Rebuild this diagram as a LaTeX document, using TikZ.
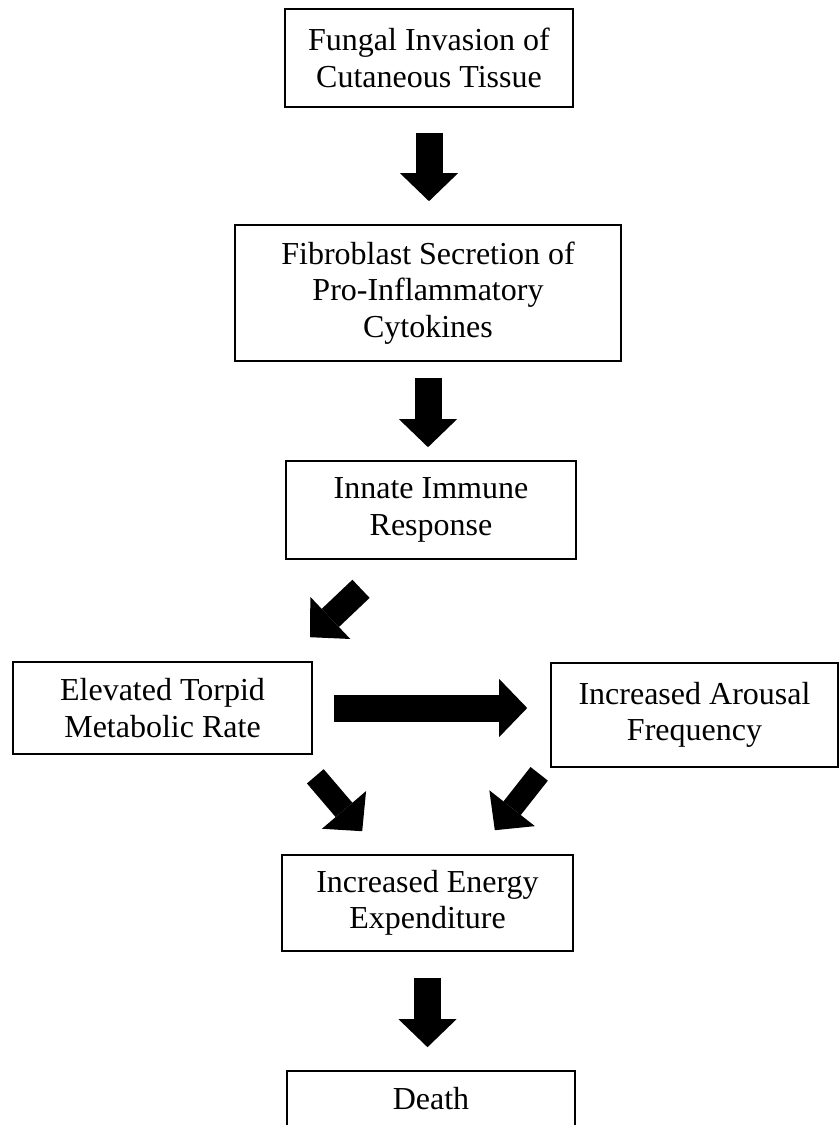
\documentclass[tikz,border=0pt]{standalone}
\usepackage{fontspec}
\setmainfont{Liberation Serif}
\usetikzlibrary{arrows.meta}

\begin{document}
\begin{tikzpicture}[
  x=1bp, y=-1bp,
  stage/.style={draw, line width=1.6bp, inner sep=0pt, align=center, font=\fontsize{32bp}{36.5bp}\selectfont},
  fatarrow/.style={line width=27bp, -{Triangle[length=28bp, width=58bp, line width=0pt]}},
]
\useasboundingbox (0,0) rectangle (840,1125);
\node[stage, minimum width=288bp, minimum height=98bp] (inv) at (429,58) {Fungal Invasion of\\Cutaneous Tissue};
\node[stage, minimum width=386bp, minimum height=136bp] (sec) at (428,293) {Fibroblast Secretion of\\Pro-Inflammatory\\Cytokines};
\node[stage, minimum width=290bp, minimum height=98bp] (imm) at (431,510) {Innate Immune\\Response};
\node[stage, minimum width=299bp, minimum height=92bp] (tor) at (162.5,708) {Elevated Torpid\\Metabolic Rate};
\node[stage, minimum width=287bp, minimum height=104bp] (aro) at (694.5,715) {Increased Arousal\\Frequency};
\node[stage, minimum width=291bp, minimum height=96bp] (ene) at (427.5,903) {Increased Energy\\Expenditure};
\node[stage, minimum width=288bp, minimum height=56bp] (dea) at (431,1099) {Death};
\draw[fatarrow, shorten <=25bp, shorten >=23bp] (inv.south) -- (inv.south |- sec.north);
\draw[fatarrow, shorten <=16bp, shorten >=13bp] (sec.south) -- (sec.south |- imm.north);
\draw[fatarrow, line width=25bp] ([shift={(-70,29)}]imm.south) -- ([shift={(147.5,-24)}]tor.north);
\draw[fatarrow, shorten <=21bp, shorten >=23bp] (tor.east) -- (tor.east -| aro.west);
\draw[fatarrow, line width=22bp] ([shift={(2.5,21.5)}]tor.south east) -- ([shift={(81,-23)}]ene.north west);
\draw[fatarrow, line width=22bp] ([shift={(-11,6)}]aro.south west) -- ([shift={(-79,-24)}]ene.north east);
\draw[fatarrow, shorten <=26bp, shorten >=23bp] (ene.south) -- (ene.south |- dea.north);
\end{tikzpicture}
\end{document}
